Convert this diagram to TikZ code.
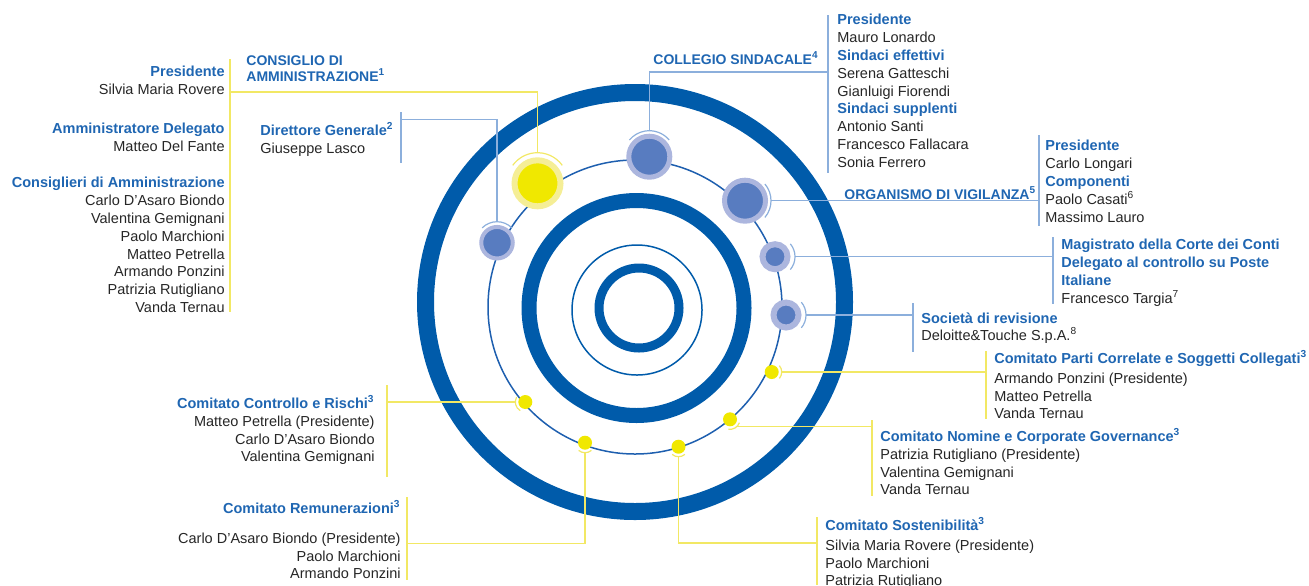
\documentclass[tikz,border=0pt]{standalone}
\usepackage{fontspec}
\setmainfont{Liberation Sans}
\usetikzlibrary{calc,positioning}
\definecolor{ringblue}{RGB}{0,91,170}
\definecolor{orbitblue}{RGB}{30,95,175}
\definecolor{pcore}{RGB}{88,124,192}
\definecolor{phalo}{RGB}{172,182,222}
\definecolor{ycore}{RGB}{240,232,0}
\definecolor{yhalo}{RGB}{245,238,150}
\definecolor{ylight}{RGB}{242,232,100}
\definecolor{blight}{RGB}{140,175,220}
\definecolor{ttlblue}{RGB}{31,102,178}
\definecolor{txtgray}{RGB}{38,38,38}
\tikzset{
  sunplanet/.style={circle, inner sep=0pt, fill=ycore, draw=yhalo, line width=3pt, minimum size=23pt, outer sep=3.8pt},
  bigplanet/.style={circle, inner sep=0pt, fill=pcore, draw=phalo, line width=2.5pt, minimum size=20.5pt, outer sep=2.75pt},
  midplanet/.style={circle, inner sep=0pt, fill=pcore, draw=phalo, line width=2pt, minimum size=15.75pt, outer sep=2.6pt},
  smallplanet/.style={circle, inner sep=0pt, fill=pcore, draw=phalo, line width=3pt, minimum size=12.5pt, outer sep=3.5pt},
  ydot/.style={circle, inner sep=0pt, fill=ycore, minimum size=7pt, outer sep=1.5pt},
  yline/.style={draw=ylight, line width=0.6pt},
  bline/.style={draw=blight, line width=0.6pt},
  blk/.style={inner sep=0pt, text=txtgray, font=\fontsize{7.25pt}{8.9pt}\selectfont},
  captl/.style={inner sep=0pt, text=ttlblue, font=\fontsize{7pt}{8pt}\selectfont\bfseries},
}
\newcommand{\ttl}[1]{{\color{ttlblue}\bfseries #1}}

\begin{document}
\begin{tikzpicture}[x=0.5pt,y=-0.5pt]
\useasboundingbox (0,0) rectangle (1309,585);

% Rings
\draw[ringblue, line width=8.5pt] (635,302) circle[radius=209.5];
\draw[ringblue, line width=7.5pt] (636.5,308) circle[radius=107.5];
\draw[ringblue, line width=0.75pt] (637,310) circle[radius=65];
\draw[ringblue, line width=4.5pt] (639,308) circle[radius=40];
\draw[orbitblue, line width=0.75pt] (635,307) circle[radius=147];

% Planets
\node[sunplanet] (cda) at (537.5,183.3) {};
\node[bigplanet] (collp) at (649.3,156.7) {};
\node[bigplanet] (odvp) at (745,200.7) {};
\node[midplanet] (dgp) at (497,242.7) {};
\node[smallplanet] (magp) at (775,256.7) {};
\node[smallplanet] (socp) at (786,315) {};
\node[ydot] (pccd) at (771.7,372) {};
\node[ydot] (nomd) at (730,419.3) {};
\node[ydot] (sosd) at (678.5,446.7) {};
\node[ydot] (remd) at (585,442.7) {};
\node[ydot] (crd) at (525.3,402) {};

% Small arcs
\draw[yline] ($(cda)+(-36:30.6)$) arc[start angle=-36, end angle=-144, radius=30.6];
\draw[bline] ($(collp)+(-40:26)$) arc[start angle=-40, end angle=-140, radius=26];
\draw[bline] ($(odvp)+(40:26)$) arc[start angle=40, end angle=-40, radius=26];
\draw[bline] ($(dgp)+(-45:21)$) arc[start angle=-45, end angle=-135, radius=21];
\draw[bline] ($(magp)+(40:20)$) arc[start angle=40, end angle=-40, radius=20];
\draw[bline] ($(socp)+(40:20)$) arc[start angle=40, end angle=-40, radius=20];
\draw[yline] ($(pccd)+(40:10)$) arc[start angle=40, end angle=-40, radius=10];
\draw[yline] ($(nomd)+(100:10)$) arc[start angle=100, end angle=20, radius=10];
\draw[yline] ($(sosd)+(130:10)$) arc[start angle=130, end angle=50, radius=10];
\draw[yline] ($(remd)+(130:10)$) arc[start angle=130, end angle=50, radius=10];
\draw[yline] ($(crd)+(-150:10)$) arc[start angle=-150, end angle=-240, radius=10];

% Bars
\coordinate (cdabar) at (230,92);
\coordinate (dgbar) at (401,119.3);
\coordinate (collbar) at (828,72);
\coordinate (odvbar) at (1039,135);
\coordinate (magbar) at (1053,237);
\coordinate (socbar) at (913,303);
\coordinate (pccbar) at (986,351);
\coordinate (nombar) at (872,420);
\coordinate (sosbar) at (817,543);
\coordinate (crbar) at (387,385);
\coordinate (rembar) at (407,543.3);
\draw[yline] (230,59) -- (230,312);
\draw[bline] (401,112) -- (401,163);
\draw[bline] (828,15) -- (828,173);
\draw[bline] (odvbar) -- (1039,226);
\draw[bline] (magbar) -- (1053,304);
\draw[bline] (socbar) -- (913,352);
\draw[yline] (pccbar) -- (986,419);
\draw[yline] (nombar) -- (872,496);
\draw[yline] (817,517) -- (817,585);
\draw[yline] (crbar) -- (387,477);
\draw[yline] (407,497) -- (407,580);

% Connectors
\draw[yline] (cda.north) |- (cdabar);
\draw[bline] (dgp.north) |- (dgbar);
\draw[bline] (collp.north) |- (collbar);
\draw[bline] (odvp.east) -- (odvp.east -| odvbar);
\draw[bline] (magp.east) -- (magp.east -| magbar);
\draw[bline] (socp.east) -- (socp.east -| socbar);
\draw[yline] (pccd.east) -- (pccd.east -| pccbar);
\draw[yline] (nomd.south east) -- (nomd.south east -| nombar);
\draw[yline] (sosd.south) |- (sosbar);
\draw[yline] (remd.south) |- (rembar);
\draw[yline] (crd.west) -- (crd.west -| crbar);

% Left texts
\node[blk, anchor=north east, align=right] (prestxt) at (225,66) {\ttl{Presidente}\\Silvia Maria Rovere};
\node[blk, anchor=north east, align=right] (adtxt) at (225,123) {\ttl{Amministratore Delegato}\\Matteo Del Fante};
\node[blk, anchor=north east, align=right] (constxt) at (225,177) {\ttl{Consiglieri di Amministrazione}\\Carlo D’Asaro Biondo\\Valentina Gemignani\\Paolo Marchioni\\Matteo Petrella\\Armando Ponzini\\Patrizia Rutigliano\\Vanda Ternau};
\node[captl, anchor=north west, align=left] (cdatxt) at (246,55) {CONSIGLIO DI\\AMMINISTRAZIONE\textsuperscript{1}};
\node[blk, anchor=north west, align=left] (dgtxt) at (260,122) {\ttl{Direttore Generale\textsuperscript{2}}\\Giuseppe Lasco};

% Right texts
\node[captl, anchor=north west] (colltitle) at (653,51) {COLLEGIO SINDACALE\textsuperscript{4}};
\node[blk, anchor=north west, align=left] (colltxt) at (837,14) {\ttl{Presidente}\\Mauro Lonardo\\\ttl{Sindaci effettivi}\\Serena Gatteschi\\Gianluigi Fiorendi\\\ttl{Sindaci supplenti}\\Antonio Santi\\Francesco Fallacara\\Sonia Ferrero};
\node[captl, anchor=north west] (odvtitle) at (844,186) {ORGANISMO DI VIGILANZA\textsuperscript{5}};
\node[blk, anchor=north west, align=left] (odvtxt) at (1045,140) {\ttl{Presidente}\\Carlo Longari\\\ttl{Componenti}\\Paolo Casati\textsuperscript{6}\\Massimo Lauro};
\node[blk, anchor=north west, align=left] (magtxt) at (1061,239) {\ttl{Magistrato della Corte dei Conti}\\\ttl{Delegato al controllo su Poste}\\\ttl{Italiane}\\Francesco Targia\textsuperscript{7}};
\node[blk, anchor=north west, align=left] (soctxt) at (921,312) {\ttl{Società di revisione}\\Deloitte\&Touche S.p.A.\textsuperscript{8}};
\node[blk, anchor=north west, align=left] (pcctxt) at (994,350) {\ttl{Comitato Parti Correlate e Soggetti Collegati\textsuperscript{3}}\\[1pt]Armando Ponzini (Presidente)\\Matteo Petrella\\Vanda Ternau};
\node[blk, anchor=north west, align=left] (nomtxt) at (880,428) {\ttl{Comitato Nomine e Corporate Governance\textsuperscript{3}}\\Patrizia Rutigliano (Presidente)\\Valentina Gemignani\\Vanda Ternau};
\node[blk, anchor=north west, align=left] (sostxt) at (825,517) {\ttl{Comitato Sostenibilità\textsuperscript{3}}\\[1pt]Silvia Maria Rovere (Presidente)\\Paolo Marchioni\\Patrizia Rutigliano};

% Bottom left texts
\node[blk, anchor=north east, align=right] (crtxt) at (375,395) {\ttl{Comitato Controllo e Rischi\textsuperscript{3}}\\Matteo Petrella (Presidente)\\Carlo D’Asaro Biondo\\Valentina Gemignani};
\node[blk, anchor=north east, align=right] (remtxt) at (401,500) {\ttl{Comitato Remunerazioni\textsuperscript{3}}\\[6pt]Carlo D’Asaro Biondo (Presidente)\\Paolo Marchioni\\Armando Ponzini};
\end{tikzpicture}
\end{document}
